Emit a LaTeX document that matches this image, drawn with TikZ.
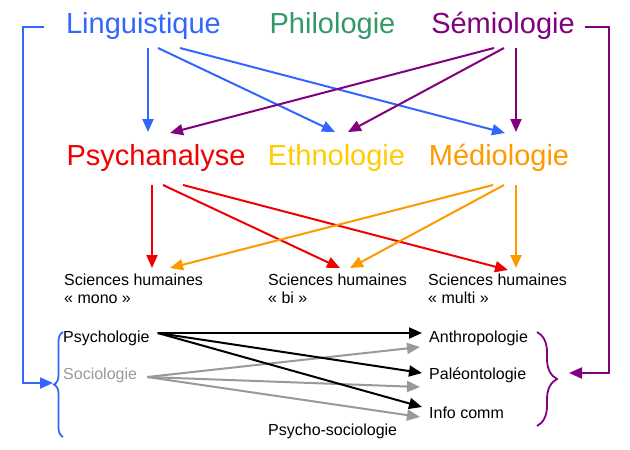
\documentclass[tikz,border=0pt]{standalone}
\usepackage{fontspec}
\setmainfont{Liberation Sans}
\usepackage{tikz}
\usetikzlibrary{arrows.meta,calc,decorations.pathreplacing}

\definecolor{lingblue}{HTML}{3366FF}
\definecolor{philgreen}{HTML}{339966}
\definecolor{semipurple}{HTML}{800080}
\definecolor{psyred}{HTML}{F00000}
\definecolor{ethyellow}{HTML}{FFCC00}
\definecolor{medorange}{HTML}{FF9900}
\definecolor{socgray}{HTML}{999999}

\begin{document}
\begin{tikzpicture}[x=1pt,y=-1pt,
  disc/.style={font=\fontsize{29}{32}\selectfont,anchor=base,inner sep=0pt},
  lab/.style={font=\fontsize{16}{18}\selectfont,inner sep=0pt,align=left},
  arr/.style={-{Triangle[length=13pt,width=11pt]},line width=2pt},
  brc/.style={decorate,decoration={brace,amplitude=#1},line width=1.8pt},
  brc/.default=9pt]
  \useasboundingbox (0,0) rectangle (630,450);
  % disciplines
  \node[disc,text=lingblue] (ling) at (143.5,33) {Linguistique};
  \node[disc,text=philgreen] (philo) at (332.5,33) {Philologie};
  \node[disc,text=semipurple] (semio) at (503,33) {Sémiologie};
  \node[disc,text=psyred] (psy) at (156,165) {Psychanalyse};
  \node[disc,text=ethyellow] (ethno) at (336.5,165) {Ethnologie};
  \node[disc,text=medorange] (medio) at (499,165) {Médiologie};
  % sciences humaines
  \node[lab,anchor=north west] (mono) at (64,274) {Sciences humaines\\«~mono~»};
  \node[lab,anchor=north west] (bi) at (268,274) {Sciences humaines\\«~bi~»};
  \node[lab,anchor=north west] (multi) at (428,274) {Sciences humaines\\«~multi~»};
  % bas
  \node[lab,anchor=base west] (psycho) at (63,342) {Psychologie};
  \node[lab,anchor=base west,text=socgray] (socio) at (63,379) {Sociologie};
  \node[lab,anchor=base west] (anthro) at (429,342) {Anthropologie};
  \node[lab,anchor=base west] (paleo) at (429,379) {Paléontologie};
  \node[lab,anchor=base west] (info) at (429,418) {Info comm};
  \node[lab,anchor=base west] (psoc) at (268,435) {Psycho-sociologie};
  \coordinate (lbrace) at (53,383);
  \coordinate (rbrace) at (569,373);

  \draw[arr,lingblue] ($(ling.base)+(4.5,15)$) -- ($(psy.base)+(-8,-33)$);
  \draw[arr,lingblue] ($(ling.base)+(14.5,15)$) -- ($(ethno.base)+(-1.5,-33)$);
  \draw[arr,lingblue] ($(ling.base)+(36.5,15)$) -- ($(medio.base)+(6,-32)$);
  \draw[arr,semipurple] ($(semio.base)+(13,15)$) -- ($(medio.base)+(17,-33)$);
  \draw[arr,semipurple] ($(semio.base)+(1,15)$) -- ($(ethno.base)+(11.5,-33)$);
  \draw[arr,semipurple] ($(semio.base)+(-9,15)$) -- ($(psy.base)+(14,-32)$);

  \draw[arr,psyred] ($(psy.base)+(-4,20)$) -- ($(mono.north west)+(88,-6)$);
  \draw[arr,psyred] ($(psy.base)+(7,20)$) -- ($(bi.north west)+(72,-6)$);
  \draw[arr,psyred] ($(psy.base)+(27,20)$) -- ($(multi.north west)+(80,-4)$);
  \draw[arr,medorange] ($(medio.base)+(17,20)$) -- ($(multi.north west)+(88,-6)$);
  \draw[arr,medorange] ($(medio.base)+(5,20)$) -- ($(bi.north west)+(82,-6)$);
  \draw[arr,medorange] ($(medio.base)+(-6,20)$) -- ($(mono.north west)+(106,-6)$);

  \draw[arr,socgray] ($(socio.base east)+(10,-2)$) -- ($(anthro.base west)+(-9,5)$);
  \draw[arr,socgray] ($(socio.base east)+(10,-2)$) -- ($(paleo.base west)+(-9,8)$);
  \draw[arr,socgray] ($(socio.base east)+(10,-2)$) -- ($(info.base west)+(-9,-1)$);
  \draw[arr,black] ($(psycho.base east)+(8,-9)$) -- ($(anthro.base west)+(-7,-9)$);
  \draw[arr,black] ($(psycho.base east)+(8,-9)$) -- ($(paleo.base west)+(-7,-6)$);
  \draw[arr,black] ($(psycho.base east)+(8,-9)$) -- ($(info.base west)+(-7,-11)$);

  % accolades
  \draw[brc,lingblue] (63,437) -- (63,332);
  \draw[brc=20pt,semipurple] (537,332) -- (537,426);
  \draw[arr,lingblue] ($(ling.base west)+(-22,-6)$) -- ++(-21,0) |- (lbrace);
  \draw[arr,semipurple] ($(semio.base east)+(10,-6)$) -- ++(24,0) |- (rbrace);
\end{tikzpicture}
\end{document}
